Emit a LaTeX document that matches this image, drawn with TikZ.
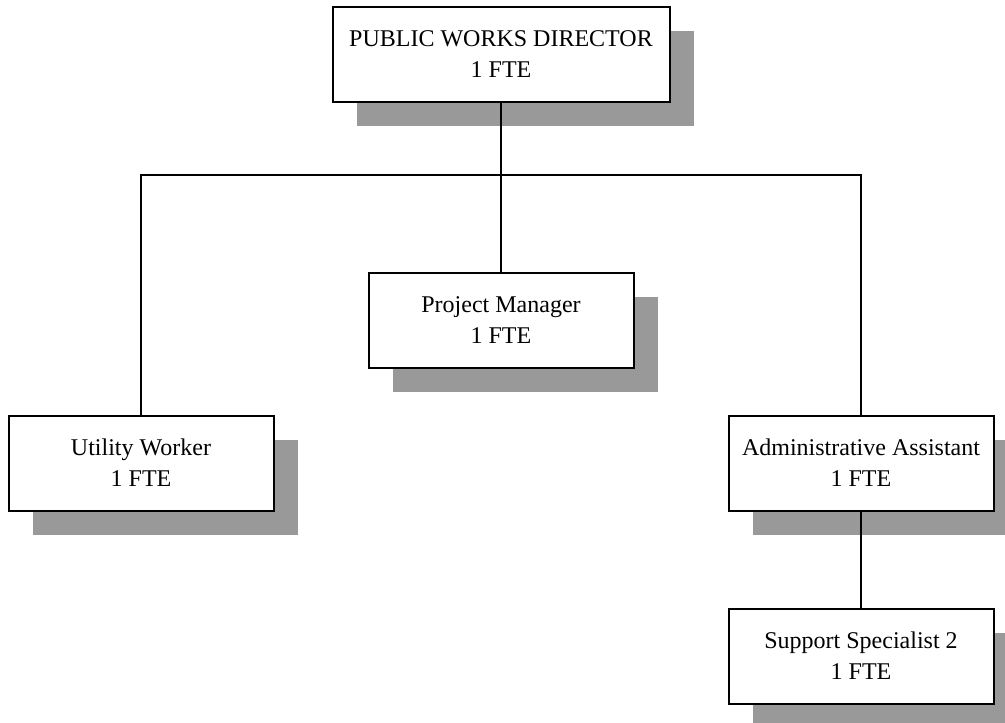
\documentclass[tikz,border=0pt]{standalone}
\usepackage{fontspec}
\setmainfont{Liberation Serif}
\usetikzlibrary{positioning, shadows}

\begin{document}
\begin{tikzpicture}[
    x=1pt, y=-1pt,
    node distance=169pt,
    post/.style={
        rectangle,
        draw,
        line width=2pt,
        fill=white,
        align=center,
        inner sep=0pt,
        minimum width=265pt,
        minimum height=95pt,
        font=\fontsize{24}{31}\selectfont,
        drop shadow={shadow xshift=24pt, shadow yshift=-24pt,
            opacity=1, fill=black!40}
    },
    wire/.style={draw, line width=2.2pt}
]
\useasboundingbox (0,0) rectangle (1005,723);
\clip (0,0) rectangle (1005,723);

\node[post, minimum width=337pt] (director) at (501,54.5) {PUBLIC WORKS DIRECTOR\\1 FTE};
\node[post, below=of director] (manager) {Project Manager\\1 FTE};
\node[post] (utility) at (141,463) {Utility Worker\\1 FTE};
\node[post] (admin) at (861,463) {Administrative Assistant\\1 FTE};
\node[post, below=96pt of admin] (support) {Support Specialist 2\\1 FTE};

\coordinate (bus) at (501,175);

\path[wire] (director) -- (manager);
\path[wire] (utility.north) |- (bus) -| (admin.north);
\path[wire] (admin) -- (support);

\end{tikzpicture}
\end{document}
